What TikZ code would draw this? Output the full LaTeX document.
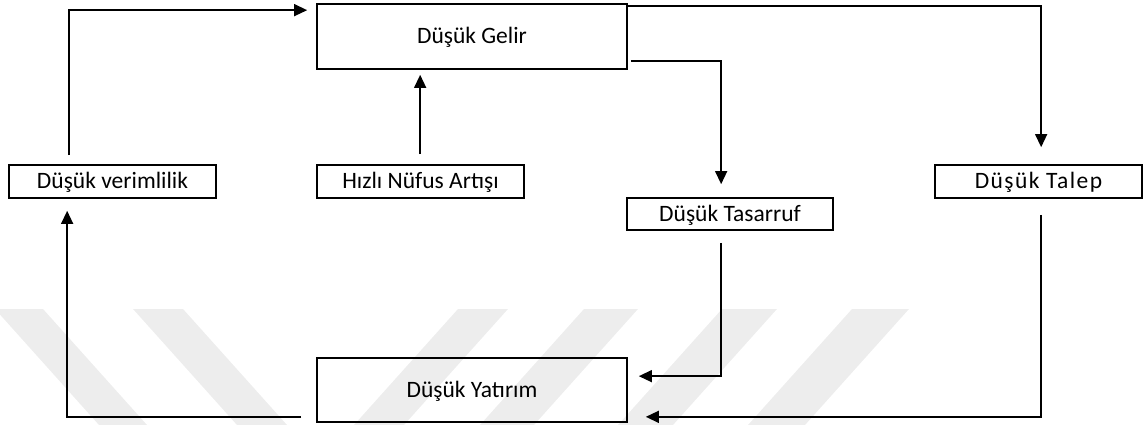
\documentclass[tikz,border=0pt]{standalone}
\usepackage{fontspec}
\setmainfont{Carlito}
\usetikzlibrary{arrows.meta,calc}
\begin{document}
\begin{tikzpicture}[x=1pt,y=-1pt,
  box/.style={draw=black,line width=1.7pt,rectangle,inner sep=0pt,
    font=\fontsize{23.5}{28}\selectfont,text height=17pt,text depth=2pt},
  conn/.style={draw=black,line width=1.4pt,-{Triangle[length=13pt,width=12pt]}},
  stripe/.style={fill=black!7,draw=none}]
\useasboundingbox (0,0) rectangle (1144,425);
% watermark stripes
\fill[stripe] (-5,309) -- (43,309) -- (147,425) -- (99,425) -- cycle;
\fill[stripe] (133,309) -- (183,309) -- (287,425) -- (237,425) -- cycle;
\fill[stripe] (458,309) -- (508,309) -- (404,425) -- (354,425) -- cycle;
\fill[stripe] (584,309) -- (638,309) -- (534,425) -- (480,425) -- cycle;
\fill[stripe] (722,309) -- (777,309) -- (673,425) -- (618,425) -- cycle;
\fill[stripe] (852,309) -- (909,309) -- (805,425) -- (748,425) -- cycle;
% boxes
\node[box,minimum width=310pt,minimum height=65pt] (gelir) at (472,36.5) {Düşük Gelir};
\node[box,minimum width=207pt,minimum height=33pt] (verim) at (112.5,181.5) {Düşük verimlilik};
\node[box,minimum width=207pt,minimum height=33pt] (hizli) at (420.5,181.5) {Hızlı Nüfus Artışı};
\node[box,minimum width=206pt,minimum height=32pt] (tasarruf) at (730,214) {Düşük Tasarruf};
\node[box,minimum width=207pt,minimum height=33pt] (talep) at (1038.5,181.5) {\addfontfeature{LetterSpace=6}Düşük Talep};
\node[box,minimum width=310pt,minimum height=64pt] (yatirim) at (472,390) {Düşük Yatırım};
% connectors
\draw[conn] ($(verim.north west)+(61,-9)$) |- ($(gelir.north west)+(-9,7)$);
\draw[conn] ($(hizli.north west)+(104,-10)$) -- ($(gelir.south west)+(104,5)$);
\draw[conn] ($(gelir.north east)+(0,3)$) -| ($(talep.north west)+(107,-17)$);
\draw[conn] ($(gelir.south east)+(3,-9)$) -| ($(tasarruf.north west)+(95,-13)$);
\draw[conn] ($(tasarruf.south west)+(95,12)$) |- ($(yatirim.north east)+(11,19)$);
\draw[conn] ($(talep.south west)+(107,16)$) |- ($(yatirim.south east)+(18,-6)$);
\draw[conn] ($(yatirim.south west)+(-15,-6)$) -| ($(verim.south west)+(59,12)$);
\end{tikzpicture}
\end{document}
